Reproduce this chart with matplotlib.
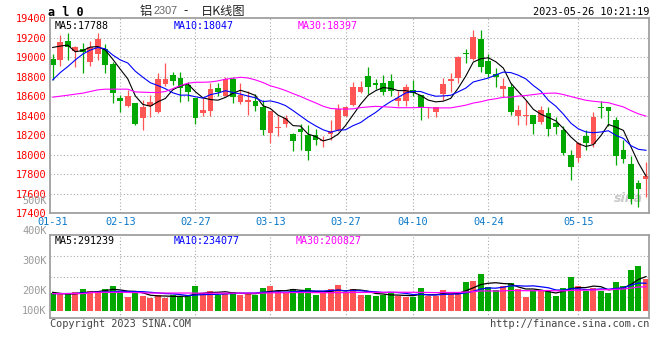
import numpy as np
import pandas as pd
import matplotlib
matplotlib.use("Agg")
import matplotlib.pyplot as plt

# x axis date labels (trading day index -> label)
tick_idx = [0, 9, 19, 29, 39, 48, 58, 70]
tick_labels = ["01-31", "02-13", "02-27", "03-13", "03-27", "04-10", "04-24", "05-15"]

# daily OHLC, 铝2307, 2023-01-31 .. 2023-05-26
opens = [18976, 18969, 19163, 19064, 19081, 18952, 19027, 19078, 18928, 18578,
         18493, 18527, 18370, 18493, 18432, 18724, 18816, 18782, 18714, 18578,
         18425, 18442, 18680, 18602, 18778, 18534, 18541, 18551, 18483, 18224,
         18272, 18316, 18214, 18262, 18204, 18204, 18140, 18214, 18255, 18398,
         18510, 18642, 18806, 18738, 18738, 18755, 18544, 18544, 18663, 18612,
         18412, 18432, 18622, 18758, 18782, 19040, 18976, 19182, 18959, 18826,
         18676, 18697, 18398, 18395, 18408, 18337, 18425, 18323, 18248, 17999,
         17969, 18187, 18112, 18480, 18483, 18350, 18051, 17898, 17704, 17748]
highs = [19030, 19224, 19248, 19110, 19139, 19163, 19251, 19132, 18952, 18612,
         18663, 18530, 18561, 18612, 18840, 18935, 18850, 18850, 18748, 18580,
         18578, 18731, 18738, 18799, 18799, 18731, 18656, 18622, 18561, 18442,
         18391, 18408, 18216, 18316, 18306, 18262, 18194, 18357, 18520, 18500,
         18748, 18755, 18901, 18772, 18816, 18826, 18656, 18724, 18765, 18614,
         18486, 18490, 18782, 18840, 19010, 19081, 19277, 19277, 19030, 18884,
         18782, 18731, 18510, 18561, 18410, 18500, 18486, 18384, 18289, 18044,
         18132, 18248, 18432, 18547, 18485, 18384, 18153, 17983, 17738, 17928]
lows = [18765, 18908, 18969, 18894, 18833, 18908, 18969, 18840, 18527, 18432,
        18486, 18305, 18248, 18384, 18425, 18704, 18714, 18534, 18544, 18316,
        18391, 18391, 18595, 18595, 18527, 18520, 18408, 18442, 18204, 18119,
        18194, 18282, 18034, 18051, 17942, 18102, 18078, 18153, 18245, 18384,
        18493, 18629, 18622, 18670, 18612, 18595, 18500, 18500, 18595, 18350,
        18374, 18384, 18561, 18646, 18738, 18942, 18970, 18850, 18799, 18697,
        18588, 18408, 18306, 18303, 18207, 18316, 18194, 18207, 18000, 17742,
        17925, 18051, 18075, 18371, 18292, 17894, 17908, 17490, 17466, 17568]
closes = [18921, 19152, 19098, 19105, 19054, 19098, 19180, 18921, 18629, 18544,
          18602, 18309, 18486, 18534, 18772, 18772, 18758, 18680, 18636, 18374,
          18459, 18670, 18646, 18778, 18588, 18612, 18554, 18493, 18255, 18442,
          18275, 18374, 18136, 18228, 18034, 18153, 18146, 18238, 18469, 18486,
          18697, 18690, 18690, 18710, 18646, 18653, 18578, 18690, 18629, 18476,
          18418, 18486, 18724, 18775, 19003, 19030, 19208, 18894, 18826, 18799,
          18707, 18432, 18459, 18402, 18316, 18459, 18265, 18282, 18017, 17874,
          18119, 18119, 18381, 18476, 18442, 17986, 17949, 17541, 17643, 17775]
# volume, thousands of lots
volumes = [148, 140, 140, 160, 185, 168, 160, 185, 210, 162,
           118, 148, 126, 109, 134, 112, 134, 126, 126, 210,
           148, 168, 134, 148, 160, 134, 151, 134, 193, 210,
           168, 148, 185, 160, 193, 134, 148, 185, 218, 157,
           185, 134, 134, 126, 134, 148, 126, 120, 115, 193,
           126, 126, 176, 148, 154, 244, 252, 311, 204, 176,
           210, 235, 185, 118, 176, 168, 168, 126, 193, 286,
           210, 168, 190, 168, 151, 244, 210, 344, 378, 269]

# moving-average values read off the chart where the window is not yet full
ma5_head = [19098, 19112, 19122, 19054]
ma10_head = [18765, 18840, 18901, 18969, 19030, 19071, 19098, 19084, 19020]
ma30_head = [18588, 18598, 18608, 18619, 18629, 18646, 18663, 18670, 18670, 18670,
             18670, 18642, 18639, 18636, 18636, 18646, 18676, 18707, 18731, 18741,
             18741, 18744, 18755, 18772, 18782, 18792, 18785, 18765, 18738]
vma5_head = [157, 148, 143, 143]
vma10_head = [146, 146, 147, 148, 152, 156, 158, 160, 162]
vma30_head = [146, 146, 146, 146, 146, 154, 156, 157, 157, 157,
              156, 155, 153, 151, 151, 151, 151, 151, 151, 150,
              150, 150, 150, 150, 150, 150, 150, 150, 150]

price_legend = ["MA5:17788", "MA10:18047", "MA30:18397"]
vol_legend = ["MA5:291239", "MA10:234077", "MA30:200827"]
vol_labels = ["100K", "200K", "300K", "400K", "500K"]

RED = "#ff5555"
GREEN = "#00a800"
MA_COLORS = ["black", "#0000ff", "#ff00ff"]
FRAME = "#a0a0a0"
GRID = "#aaaaaa"
MONO = "DejaVu Sans Mono"
W, H = 660, 360


def moving_avg(values, n, head):
    s = pd.Series(values, dtype=float).rolling(n).mean().values
    s[:len(head)] = head
    return s


def px(x, y):
    return x / W, 1 - y / H


def style_axes(ax):
    for sp in ax.spines.values():
        sp.set_color(FRAME)
        sp.set_linewidth(1.3)
    ax.tick_params(length=0)
    for i in tick_idx[1:]:
        ax.axvline(i, color=GRID, lw=0.8, ls=(0, (1, 2)), zorder=0)


opens = np.array(opens)
closes = np.array(closes)
x = np.arange(len(closes))
colors = np.where(closes >= opens, RED, GREEN)

fig = plt.figure(figsize=(W / 100, H / 100), dpi=100)
fig.patch.set_facecolor("white")

# price panel
ax = fig.add_axes([50 / W, 1 - 213 / H, 599.3 / W, 195 / H])
style_axes(ax)
ax.vlines(x, lows, highs, colors=colors, lw=0.9, zorder=2)
body_lo = np.minimum(opens, closes)
body_h = np.maximum(np.abs(closes - opens), 8)
ax.bar(x, body_h, bottom=body_lo, width=0.76, color=colors, linewidth=0, zorder=2)
for n, head, c in zip([5, 10, 30], [ma5_head, ma10_head, ma30_head], MA_COLORS):
    ax.plot(x, moving_avg(closes, n, head), color=c, lw=0.8, zorder=3)
ax.set_xlim(-0.36, 79.44)
ax.set_ylim(17400, 19400)
levels = np.arange(17400, 19401, 200)
ax.set_yticks(levels)
ax.set_yticklabels([str(v) for v in levels], color="red", fontfamily=MONO, fontsize=7.4)
for v in levels[1:-1]:
    ax.axhline(v, color=GRID, lw=0.8, ls=(0, (1, 2)), zorder=0)
ax.set_xticks(tick_idx)
ax.set_xticklabels(tick_labels, color="#0a78c8", fontfamily=MONO, fontsize=7.4)
ax.tick_params(axis="y", pad=2.5)
ax.tick_params(axis="x", pad=3)
ax.text(0.007, 0.985, price_legend[0], transform=ax.transAxes, color=MA_COLORS[0],
        fontfamily=MONO, fontsize=7.2, va="top")
ax.text(0.207, 0.985, price_legend[1], transform=ax.transAxes, color=MA_COLORS[1],
        fontfamily=MONO, fontsize=7.2, va="top")
ax.text(0.413, 0.985, price_legend[2], transform=ax.transAxes, color=MA_COLORS[2],
        fontfamily=MONO, fontsize=7.2, va="top")
ax.text(0.965, 0.04, "sina", transform=ax.transAxes, color="#c8c8c8", style="italic",
        fontweight="bold", fontsize=9, ha="center", va="bottom", zorder=1)

# volume panel
ax2 = fig.add_axes([50 / W, 1 - 318 / H, 599.3 / W, 83 / H])
style_axes(ax2)
ax2.bar(x, volumes, width=0.8, color=colors, linewidth=0, zorder=2)
for n, head, c in zip([5, 10, 30], [vma5_head, vma10_head, vma30_head], MA_COLORS):
    ax2.plot(x, moving_avg(volumes, n, head), color=c, lw=0.9, zorder=3)
ax2.set_xlim(-0.36, 79.44)
ax2.set_ylim(-58.8, 638.4)
lo, hi = ax2.get_ylim()
for v in np.linspace(lo, hi, 5)[1:-1]:
    ax2.axhline(v, color=GRID, lw=0.8, ls=(0, (1, 2)), zorder=0)
ax2.set_xticks([])
ax2.set_yticks([])
ax2.text(0.007, 0.985, vol_legend[0], transform=ax2.transAxes, color=MA_COLORS[0],
         fontfamily=MONO, fontsize=7.2, va="top")
ax2.text(0.207, 0.985, vol_legend[1], transform=ax2.transAxes, color=MA_COLORS[1],
         fontfamily=MONO, fontsize=7.2, va="top")
ax2.text(0.41, 0.985, vol_legend[2], transform=ax2.transAxes, color=MA_COLORS[2],
         fontfamily=MONO, fontsize=7.2, va="top")
for lab, ypx in zip(vol_labels, [311, 291, 261, 231, 200.5]):
    fig.text(*px(46.5, ypx), lab, color="#999999", fontfamily=MONO, fontsize=7.4,
             ha="right", va="center")

# header and footer
fig.text(*px(48, 12), "a l 0", fontfamily=MONO, fontweight="bold", fontsize=8.5,
         va="center", color="black")
fig.text(*px(140, 11), "铝", fontfamily="Noto Sans CJK SC", fontsize=8.8,
         va="center", color="#222222")
fig.text(*px(153, 11.5), "2307", fontfamily="Liberation Sans", fontsize=7.8,
         va="center", color="#666666")
fig.text(*px(183, 11), "-", fontfamily="Noto Sans CJK SC", fontsize=8.8,
         va="center", color="#222222")
fig.text(*px(201, 11), "日K线图", fontfamily="Noto Sans CJK SC", fontsize=8.8,
         va="center", color="#222222")
fig.text(*px(649, 12), "2023-05-26 10:21:19", fontfamily=MONO, fontsize=7.4,
         ha="right", va="center", color="black")
fig.text(*px(50, 324), "Copyright 2023 SINA.COM", fontfamily=MONO, fontsize=7.4,
         va="center", color="#444444")
fig.text(*px(649, 324), "http://finance.sina.com.cn", fontfamily=MONO, fontsize=7.4,
         ha="right", va="center", color="#444444")

fig.savefig("out.png", dpi=100, facecolor="white")
